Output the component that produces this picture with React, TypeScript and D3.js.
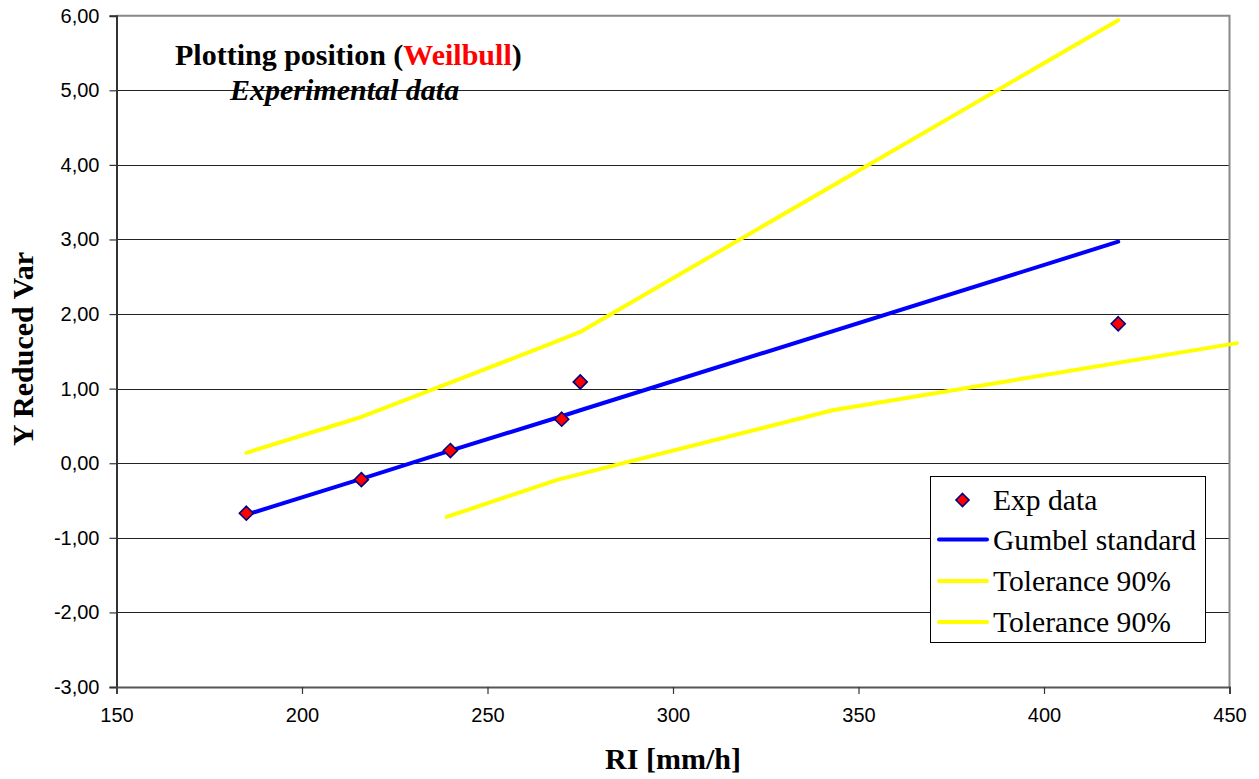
import React, { useEffect, useRef } from "react";
import * as d3 from "d3";

// experimental points (Weibull plotting position)
const expX = [185, 216, 240, 270, 275, 420];
const expY = [-0.67, -0.22, 0.17, 0.59, 1.09, 1.87];

// Gumbel standard fit
const gumbelX = [185, 216, 240, 270, 275, 420];
const gumbelY = [-0.69, -0.21, 0.17, 0.63, 0.71, 2.97];

// tolerance 90% bands
const upperX = [185, 216, 240, 270, 275, 420];
const upperY = [0.14, 0.62, 1.08, 1.66, 1.76, 5.94];
const lowerX = [239, 269, 343, 452];
const lowerY = [-0.72, -0.22, 0.71, 1.61];

const xTicks = [150, 200, 250, 300, 350, 400, 450];
const yTicks = [-3, -2, -1, 0, 1, 2, 3, 4, 5, 6];

const legendLabels = ["Exp data", "Gumbel standard", "Tolerance 90%", "Tolerance 90%"];

const SERIF = "'Times New Roman', 'Liberation Serif', serif";
const SANS = "Arial, 'Liberation Sans', sans-serif";

export default function App() {
  const svgRef = useRef<SVGSVGElement>(null);

  useEffect(() => {
    document.body.style.margin = "0";
    const width = 1259;
    const height = 779;
    const left = 116.5, right = 1229.5, top = 15.7, bottom = 687;

    const svg = d3.select(svgRef.current)
      .attr("width", width)
      .attr("height", height)
      .style("display", "block")
      .style("background", "#fff");
    svg.selectAll("*").remove();

    const x = d3.scaleLinear().domain([150, 450]).range([left, right]);
    const y = d3.scaleLinear().domain([-3, 6]).range([bottom, top]);

    // gridlines
    svg.append("g")
      .selectAll("line")
      .data(yTicks.filter(t => t !== -3 && t !== 6))
      .join("line")
      .attr("x1", left).attr("x2", right)
      .attr("y1", d => Math.round(y(d)) + 0.5).attr("y2", d => Math.round(y(d)) + 0.5)
      .attr("stroke", "#222").attr("stroke-width", 1);

    // plot border top/right
    svg.append("path")
      .attr("d", `M${left},${y(6)}H${right}V${bottom}`)
      .attr("fill", "none").attr("stroke", "#888").attr("stroke-width", 2);

    // axes
    const yAxis = d3.axisLeft(y).tickValues(yTicks).tickSize(7).tickPadding(10)
      .tickFormat(d => d3.format(".2f")(d as number).replace(".", ",").replace("\u2212", "-"));
    const gy = svg.append("g").attr("transform", `translate(${left},0)`).call(yAxis);
    gy.select(".domain").attr("stroke", "#333").attr("stroke-width", 2);
    gy.selectAll(".tick line").attr("stroke", "#333").attr("stroke-width", 1.2);
    gy.selectAll(".tick text").attr("font-family", SANS).attr("font-size", 20).attr("fill", "#000");

    const xAxis = d3.axisBottom(x).tickValues(xTicks).tickSize(7).tickPadding(14);
    const gx = svg.append("g").attr("transform", `translate(0,${bottom})`).call(xAxis);
    gx.select(".domain").attr("stroke", "#555").attr("stroke-width", 2);
    gx.selectAll(".tick line").attr("stroke", "#333").attr("stroke-width", 1.2);
    gx.selectAll(".tick text").attr("font-family", SANS).attr("font-size", 20).attr("fill", "#000");

    const line = d3.line<[number, number]>().x(d => x(d[0])).y(d => y(d[1]));

    const series = [
      { xs: upperX, ys: upperY, color: "#ffff00", w: 4 },
      { xs: lowerX, ys: lowerY, color: "#ffff00", w: 4 },
      { xs: gumbelX, ys: gumbelY, color: "#0000ff", w: 4 },
    ];
    series.forEach(s => {
      svg.append("path")
        .datum(s.xs.map((v, i) => [v, s.ys[i]] as [number, number]))
        .attr("d", line)
        .attr("fill", "none")
        .attr("stroke", s.color)
        .attr("stroke-width", s.w)
        .attr("stroke-linejoin", "round")
        .attr("stroke-linecap", "round");
    });

    const diamond = (cx: number, cy: number, r: number) =>
      `M${cx},${cy - r}L${cx + r},${cy}L${cx},${cy + r}L${cx - r},${cy}Z`;

    svg.append("g")
      .selectAll("path")
      .data(expX.map((v, i) => [v, expY[i]]))
      .join("path")
      .attr("d", d => diamond(x(d[0]), y(d[1]), 7))
      .attr("fill", "#ff0000")
      .attr("stroke", "#000080")
      .attr("stroke-width", 1.6);

    // titles
    const t1 = svg.append("text")
      .attr("x", 175).attr("y", 65)
      .attr("font-family", SERIF).attr("font-size", 30).attr("font-weight", "bold");
    t1.append("tspan").text("Plotting position (");
    t1.append("tspan").attr("fill", "#ff0000").text("Weilbull");
    t1.append("tspan").text(")");

    svg.append("text")
      .attr("x", 230).attr("y", 100)
      .attr("font-family", SERIF).attr("font-size", 30)
      .attr("font-weight", "bold").attr("font-style", "italic")
      .text("Experimental data");

    svg.append("text")
      .attr("x", (left + right) / 2).attr("y", 769)
      .attr("text-anchor", "middle")
      .attr("font-family", SERIF).attr("font-size", 30).attr("font-weight", "bold")
      .text("RI [mm/h]");

    svg.append("text")
      .attr("transform", `translate(33,${349}) rotate(-90)`)
      .attr("text-anchor", "middle")
      .attr("font-family", SERIF).attr("font-size", 30).attr("font-weight", "bold")
      .text("Y Reduced Var");

    // legend
    const lg = svg.append("g");
    lg.append("rect")
      .attr("x", 930.5).attr("y", 476.5).attr("width", 275).attr("height", 166)
      .attr("fill", "#fff").attr("stroke", "#000").attr("stroke-width", 1);
    const symY = [500, 539.5, 581, 622];
    const colors = [null, "#0000ff", "#ffff00", "#ffff00"];
    legendLabels.forEach((lab, i) => {
      if (i === 0) {
        lg.append("path")
          .attr("d", diamond(962.5, symY[i], 6.5))
          .attr("fill", "#ff0000").attr("stroke", "#000080").attr("stroke-width", 1.6);
      } else {
        lg.append("line")
          .attr("x1", 939).attr("x2", 987)
          .attr("y1", symY[i]).attr("y2", symY[i])
          .attr("stroke", colors[i] as string).attr("stroke-width", 4)
          .attr("stroke-linecap", "round");
      }
      lg.append("text")
        .attr("x", 993).attr("y", symY[i] + 10)
        .attr("font-family", SERIF).attr("font-size", 29.6)
        .text(lab);
    });
  }, []);

  return (
    <div className="chart">
      <svg ref={svgRef}></svg>
    </div>
  );
}
